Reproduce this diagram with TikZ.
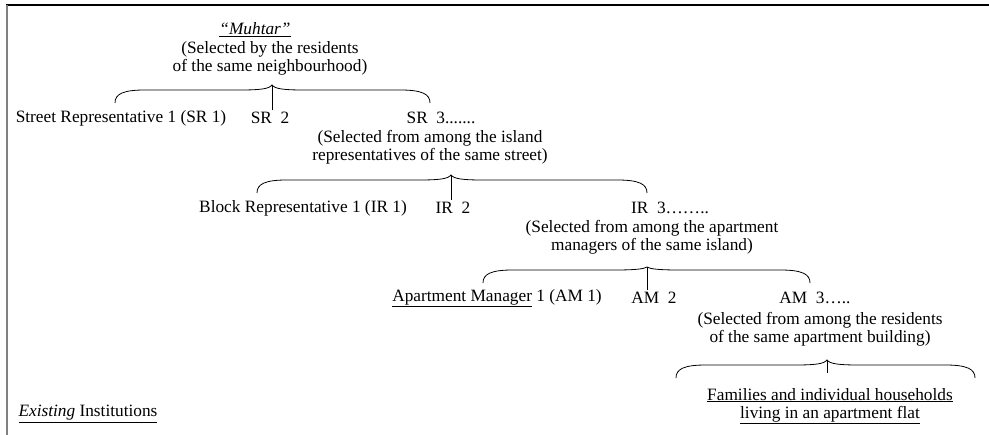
\documentclass[tikz,border=0pt]{standalone}
\usepackage{fontspec}
\setmainfont{Liberation Serif}
\usetikzlibrary{calc}

% curly brace: left end, tip, right end, foot of the stem under the tip
\newcommand{\groupbrace}[4]{%
  \draw let \p1=(#1), \p2=(#2), \p3=(#3) in
    (\p1) .. controls (\x1,\y1+9pt) and (\x1+8pt,\y1+13pt) .. (\x1+30pt,\y1+13pt)
    -- (\x2-32pt,\y1+13pt) .. controls (\x2-12pt,\y1+13pt) and (\x2-3pt,\y1+14pt) .. (\p2)
    .. controls (\x2+3pt,\y3+14pt) and (\x2+12pt,\y3+13pt) .. (\x2+32pt,\y3+13pt)
    -- (\x3-30pt,\y3+13pt) .. controls (\x3-8pt,\y3+13pt) and (\x3,\y3+9pt) .. (\p3);
  \draw (#2) -- (#4);}

\begin{document}
\begin{tikzpicture}[x=1pt,y=1pt,line width=0.8pt,
    every node/.style={inner sep=0pt,font=\fontsize{17.3}{18}\selectfont},
    note/.style={align=center}]
  \useasboundingbox (0,0) rectangle (989,435);
  \draw[line width=1.5pt] (6,430) -- (989,430);
  \draw[gray,line width=2pt] (7,0) -- (7,430);

  % neighbourhood level
  \node (muhtar) at (255,405) {\underline{\textit{“Muhtar”}}};
  \node[note] (muhtarnote) at (270,377) {(Selected by the residents\\ of the same neighbourhood)};
  \coordinate (b1l) at (115,332); \coordinate (b1t) at (272,350);
  \coordinate (b1r) at (430,332); \coordinate (b1s) at (272,325);
  \groupbrace{b1l}{b1t}{b1r}{b1s}

  % street level
  \node (sr1) at (121,317) {Street Representative 1 (SR 1)};
  \node (sr2) at (270,317) {SR\ \ 2};
  \node (sr3) at (441,317) {SR\ \ 3.......};
  \node[note] (srnote) at (430,288) {(Selected from among the island\\ representatives of the same street)};
  \coordinate (b2l) at (257,242); \coordinate (b2t) at (451,260);
  \coordinate (b2r) at (647,242); \coordinate (b2s) at (451,235);
  \groupbrace{b2l}{b2t}{b2r}{b2s}

  % block level
  \node (ir1) at (303,227) {Block Representative 1 (IR 1)};
  \node (ir2) at (453,227) {IR\ \ 2};
  \node (ir3) at (670,227) {IR\ \ 3……..};
  \node[note] (irnote) at (652,198) {(Selected from among the apartment\\ managers of the same island)};
  \coordinate (b3l) at (483,152); \coordinate (b3t) at (647,168);
  \coordinate (b3r) at (810,152); \coordinate (b3s) at (647,145);
  \groupbrace{b3l}{b3t}{b3r}{b3s}

  % apartment level
  \node (am1) at (497,137) {\underline{Apartment Manager} 1 (AM 1)};
  \node (am2) at (654,137) {AM\ \ 2};
  \node (am3) at (815,137) {AM\ \ 3…..};
  \node[note] (amnote) at (820,106) {(Selected from among the residents\\ of the same apartment building)};
  \coordinate (b4l) at (676,57); \coordinate (b4t) at (827,75);
  \coordinate (b4r) at (975,57); \coordinate (b4s) at (827,62);
  \groupbrace{b4l}{b4t}{b4r}{b4s}

  \node[note] (families) at (830,29) {\underline{Families and individual households}\\ \underline{living in an apartment flat}};
  \node (existing) at (88,21) {\underline{\textit{Existing} Institutions}};
\end{tikzpicture}
\end{document}
